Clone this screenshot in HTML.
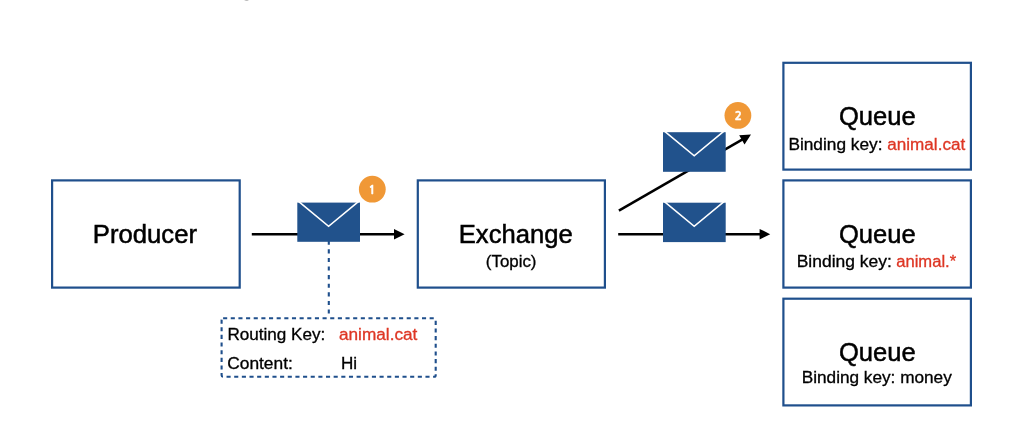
<!DOCTYPE html>
<html lang="en">
<head>
<meta charset="utf-8">
<title>Topic Exchange</title>
<style>
html,body{margin:0;padding:0;background:#ffffff;}
body{width:1024px;height:440px;overflow:hidden;}
svg{display:block;will-change:transform;transform:translateZ(0);}
text{font-family:"Liberation Sans",sans-serif;fill:#000;}
.t{font-size:25px;stroke:#000;stroke-width:0.5px;}
.s{font-size:15.8px;stroke:#000;stroke-width:0.3px;}
.r{fill:#de3624;stroke:#de3624;}
.b{font-family:"NanumGothic","Liberation Sans",sans-serif;font-size:11.8px;font-weight:bold;fill:#fff;stroke:#fff;stroke-width:0.5px;text-anchor:middle;}
.box{fill:#fff;stroke:#1f4f8c;stroke-width:2.2;}
.env{fill:#21528c;}
.flap{fill:none;stroke:#fff;stroke-width:1.6;stroke-linejoin:miter;}
.ln{stroke:#000;stroke-width:2.5;fill:none;}
.badge{fill:#f09836;}
</style>
</head>
<body>
<svg width="1024" height="440" viewBox="0 0 1024 440">
<rect x="0" y="0" width="1024" height="440" fill="#ffffff"/>
<rect x="244.4" y="0" width="4.4" height="1" fill="#e6e6e6"/><rect x="245.4" y="0" width="2.4" height="1" fill="#bdbdbd"/>

<!-- boxes -->
<rect class="box" x="52.1" y="180.4" width="187.6" height="107.2"/>
<rect class="box" x="417.8" y="180.4" width="187.1" height="107.2"/>
<rect class="box" x="783.4" y="62.8" width="187.5" height="106.8"/>
<rect class="box" x="783.4" y="180.4" width="187.5" height="107.2"/>
<rect class="box" x="783.4" y="298.7" width="187.5" height="106.7"/>

<!-- arrows -->
<line class="ln" x1="251.8" y1="234.2" x2="396" y2="234.2"/>
<polygon points="394,228.9 404.6,234.2 394,239.5" fill="#000"/>
<line class="ln" x1="618.2" y1="234.2" x2="761" y2="234.2"/>
<polygon points="759.6,228.9 770.2,234.2 759.6,239.5" fill="#000"/>
<line class="ln" x1="618.9" y1="210.6" x2="743" y2="139.2"/>
<polygon points="751,134.6 744.5,144.5 739.2,135.3" fill="#000"/>

<!-- dashed connector + detail box -->
<line x1="328.8" y1="240.7" x2="328.8" y2="317.4" stroke="#1f4f8c" stroke-width="2.1" stroke-dasharray="4.1 4.5"/>
<rect x="221.6" y="318.3" width="214.1" height="58.4" rx="1.5" fill="none" stroke="#1f4f8c" stroke-width="2.1" stroke-dasharray="4.1 3.55"/>

<!-- envelopes -->
<rect class="env" x="297.3" y="202.6" width="62.7" height="39.2"/>
<polyline class="flap" points="298.5,201.4 328.6,226.3 358.7,201.4"/>
<rect class="env" x="663" y="132.2" width="62.7" height="39.6"/>
<polyline class="flap" points="664.1,130.9 694.2,155.8 724.3,130.9"/>
<rect class="env" x="663" y="202.7" width="62.7" height="39.4"/>
<polyline class="flap" points="664.1,201.4 694.2,226.3 724.3,201.4"/>

<!-- badges -->
<circle class="badge" cx="372.3" cy="189.2" r="13.4"/>
<text class="b" x="372" y="193.9">1</text>
<circle class="badge" cx="737.9" cy="115.4" r="13.4"/>
<text class="b" x="738.4" y="119.7">2</text>

<!-- labels -->
<text id="tProducer" class="t" x="92.89" y="243" textLength="104.10" lengthAdjust="spacingAndGlyphs">Producer</text>
<text id="tExchange" class="t" x="458.79" y="243" textLength="113.89" lengthAdjust="spacingAndGlyphs">Exchange</text>
<text id="tTopic" class="s" x="485.89" y="267.1" textLength="50.59" lengthAdjust="spacingAndGlyphs">(Topic)</text>

<text id="tRouting" class="s" x="227.48" y="339.8" textLength="97.86" lengthAdjust="spacingAndGlyphs">Routing Key:</text>
<text id="tRkRed" class="s r" x="338.97" y="340.1" textLength="78.40" lengthAdjust="spacingAndGlyphs">animal.cat</text>
<text id="tContent" class="s" x="227.21" y="368.8" textLength="65.58" lengthAdjust="spacingAndGlyphs">Content:</text>
<text id="tHi" class="s" x="340.96" y="368.8" textLength="16.12" lengthAdjust="spacingAndGlyphs">Hi</text>

<text id="tQ1" class="t" x="839.00" y="125" textLength="76.69" lengthAdjust="spacingAndGlyphs">Queue</text>
<text id="tQ1s" class="s" x="788.40" y="149.5" textLength="94.14" lengthAdjust="spacingAndGlyphs">Binding key:</text>
<text id="tQ1r" class="s r" x="887.30" y="149.5" textLength="77.94" lengthAdjust="spacingAndGlyphs">animal.cat</text>
<text id="tQ2" class="t" x="839.00" y="242.8" textLength="76.69" lengthAdjust="spacingAndGlyphs">Queue</text>
<text id="tQ2s" class="s" x="796.69" y="266.7" textLength="95.18" lengthAdjust="spacingAndGlyphs">Binding key:</text>
<text id="tQ2r" class="s r" x="896.20" y="266.7" textLength="59.97" lengthAdjust="spacingAndGlyphs">animal.*</text>
<text id="tQ3" class="t" x="839.00" y="360.7" textLength="76.69" lengthAdjust="spacingAndGlyphs">Queue</text>
<text id="tQ3s" class="s" x="801.73" y="382.9" textLength="150.08" lengthAdjust="spacingAndGlyphs">Binding key: money</text>
</svg>
</body>
</html>
